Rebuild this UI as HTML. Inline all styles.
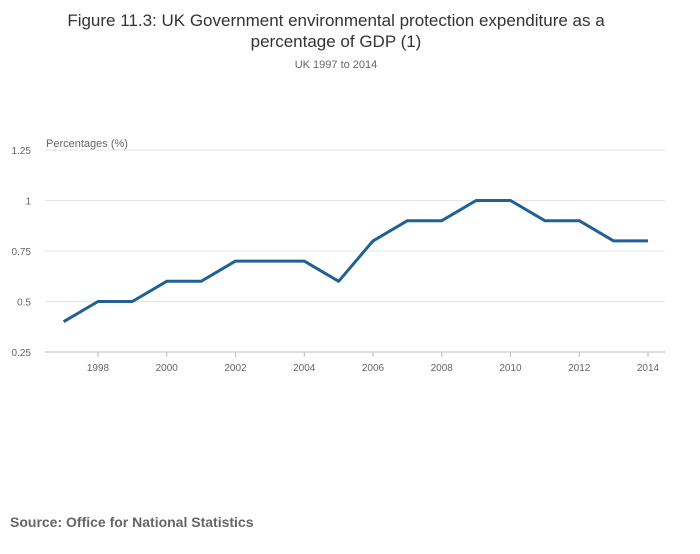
<!DOCTYPE html>
<html><head><meta charset="utf-8"><style>
body{margin:0;background:#fff;font-family:"Liberation Sans",sans-serif;}
</style></head><body>
<svg width="700" height="549" xmlns="http://www.w3.org/2000/svg">
<text x="336" y="26" text-anchor="middle" font-size="17" fill="#333">Figure 11.3: UK Government environmental protection expenditure as a</text>
<text x="336" y="47" text-anchor="middle" font-size="17" fill="#333">percentage of GDP (1)</text>
<text x="336" y="68" text-anchor="middle" font-size="11" fill="#666">UK 1997 to 2014</text>
<text x="46" y="147" font-size="11" fill="#666">Percentages (%)</text>
<g id="grid"></g><g id="xt"></g>
<path id="line" fill="none" stroke="#206095" stroke-width="3" stroke-linejoin="round"/>
<text x="10" y="527" font-size="14" font-weight="bold" fill="#666">Source: Office for National Statistics</text>
</svg>
<script>
const years=[1997,1998,1999,2000,2001,2002,2003,2004,2005,2006,2007,2008,2009,2010,2011,2012,2013,2014];
const values=[0.4,0.5,0.5,0.6,0.6,0.7,0.7,0.7,0.6,0.8,0.9,0.9,1.0,1.0,0.9,0.9,0.8,0.8];
const yTicks=[0.25,0.5,0.75,1,1.25];
const yTickLabels=["0.25","0.5","0.75","1","1.25"];
const xTicks=[1998,2000,2002,2004,2006,2008,2010,2012,2014];
const NS="http://www.w3.org/2000/svg";
const X=y=>98+(y-1998)*34.375;
const Y=v=>352-(v-0.25)*202;
const grid=document.getElementById('grid');
yTicks.forEach((t,i)=>{
 const l=document.createElementNS(NS,'line');
 l.setAttribute('x1',45);l.setAttribute('x2',665);l.setAttribute('y1',Y(t));l.setAttribute('y2',Y(t));
 l.setAttribute('stroke',i==0?'#bbb':'#e5e5e5');l.setAttribute('stroke-width',1);
 
 
 grid.appendChild(l);
 const tx=document.createElementNS(NS,'text');
 tx.setAttribute('x',31);tx.setAttribute('y',Y(t)+4);tx.setAttribute('text-anchor','end');
 tx.setAttribute('font-size',10);tx.setAttribute('fill','#666');tx.textContent=yTickLabels[i];
 
 
 grid.appendChild(tx);
});
const xt=document.getElementById('xt');
xTicks.forEach(t=>{
 const l=document.createElementNS(NS,'line');
 l.setAttribute('x1',X(t));l.setAttribute('x2',X(t));l.setAttribute('y1',352);l.setAttribute('y2',357);
 l.setAttribute('stroke','#bbb');
 
 
 xt.appendChild(l);
 const tx=document.createElementNS(NS,'text');
 tx.setAttribute('x',X(t));tx.setAttribute('y',371);tx.setAttribute('text-anchor','middle');
 tx.setAttribute('font-size',10);tx.setAttribute('fill','#666');tx.textContent=t;
 
 
 xt.appendChild(tx);
});
document.getElementById('line').setAttribute('d',years.map((y,i)=>(i?'L':'M')+X(y)+','+Y(values[i])).join(''));
</script>
</body></html>
